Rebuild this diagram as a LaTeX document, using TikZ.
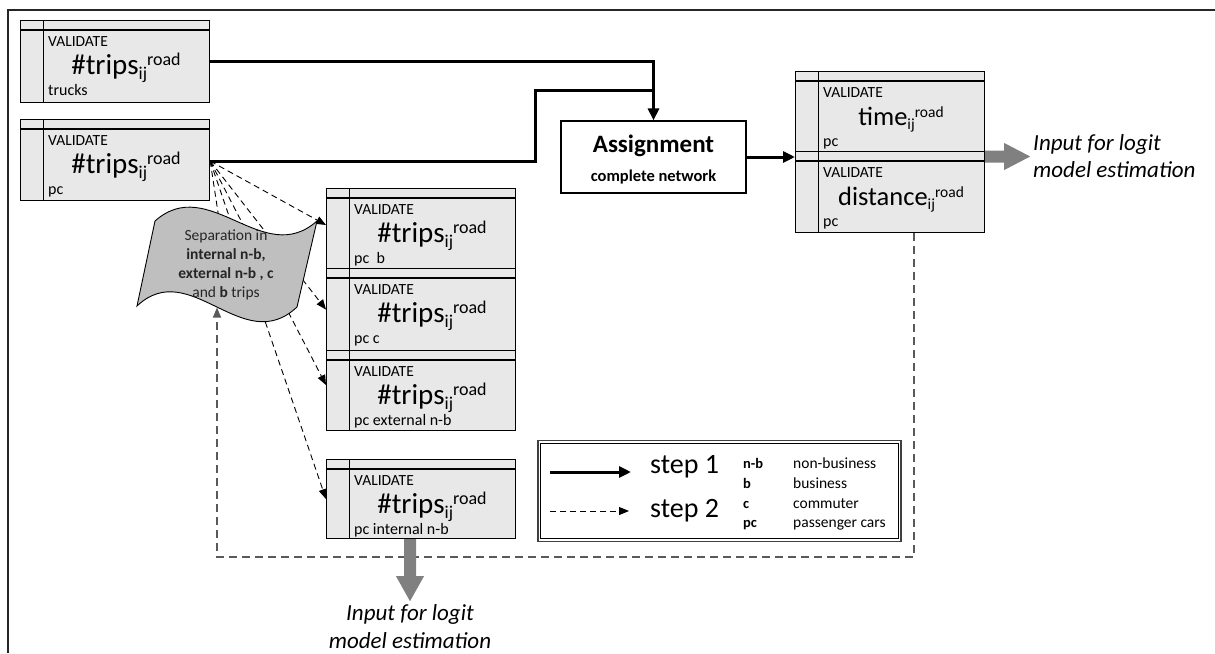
\documentclass[tikz,border=0pt]{standalone}
\usepackage{fontspec}
\setmainfont{Carlito}
\usetikzlibrary{arrows.meta,calc}
\newcommand\fsz[1]{\fontsize{#1}{#1}\selectfont}
\newcommand\tripsL[1]{#1\raisebox{-5pt}{\fsz{18}ij}\raisebox{8.5pt}{\fsz{18}road}}
\newcommand\tripsR[1]{#1\raisebox{-4.5pt}{\fsz{15.5}ij}\raisebox{8pt}{\fsz{15.5}road}}
\tikzset{
  dbox/.style={draw=black, line width=1.2pt, fill=black!9, minimum width=189pt, inner sep=0pt, anchor=north west},
  txt/.style={inner sep=0pt},
  thickline/.style={line width=3pt},
  thickarrow/.style={line width=3pt, -{Triangle[length=12pt,width=11pt]}},
  dasharrow/.style={line width=0.9pt, dash pattern=on 6pt off 4pt, -{Triangle[length=10pt,width=8pt]}},
  dashline/.style={line width=0.9pt, dash pattern=on 6pt off 4pt},
  retdash/.style={line width=1.3pt, black!65, dash pattern=on 8pt off 5pt, -{Triangle[length=10pt,width=8pt]}},
  blockarrow/.style={fill=gray},
}
% name, x0, y0, height, main text, bottom label, main font size
\newcommand\databox[7]{%
  \node[dbox, minimum height=#4] (#1) at (#2,#3) {};
  \draw[line width=1.2pt] ($(#1.north west)+(0,10)$) -- ($(#1.north east)+(0,10)$);
  \draw[line width=1pt] ($(#1.north west)+(23,0)$) -- ($(#1.south west)+(23,0)$);
  \node[txt, anchor=base west, font=\fsz{15.5}] (#1v) at ($(#1.north west)+(28,26)$) {VALIDATE};
  \node[txt, anchor=base, font=\fsz{#7}] (#1m) at ($(#1.north west)+(106,54)$) {#5};
  \node[txt, anchor=base west, font=\fsz{16}] (#1l) at ($(#1.north west)+(28,75.5)$) {#6};
}
\begin{document}
\begin{tikzpicture}[x=1pt,y=-1pt]
\useasboundingbox (0,0) rectangle (1215,653);
% outer frame (only top and left visible)
\draw[line width=1.5pt, black!85] (8,653) -- (8,10) -- (1215,10);

% data boxes
\databox{T}{20}{20}{82pt}{\tripsL{\#trips}}{trucks}{29}
\databox{P}{20}{119}{81pt}{\tripsL{\#trips}}{pc}{29}
\databox{Ma}{326}{188}{80pt}{\tripsL{\#trips}}{pc\ \ b}{29}
\databox{Mb}{326}{268}{82pt}{\tripsL{\#trips}}{pc c}{29}
\databox{Mc}{326}{350}{80pt}{\tripsL{\#trips}}{pc external n-b}{29}
\databox{Md}{326}{459}{79pt}{\tripsL{\#trips}}{pc internal n-b}{29}
\databox{Ra}{795}{71}{80pt}{\tripsR{time}}{pc}{26.5}
\databox{Rb}{795}{151}{81pt}{\tripsR{distance}}{pc}{26.5}

% assignment
\node[draw, line width=1.2pt, fill=white, minimum width=185pt, minimum height=72pt, inner sep=0pt] (assign) at (653.5,157) {};
\node[txt, anchor=base, font=\fsz{25}\bfseries] (assignt) at (653.5,152) {Assignment};
\node[txt, anchor=base, font=\fsz{16.5}\bfseries] (assigns) at (653.5,181.5) {complete network};

% coordinates
\coordinate (pe) at ($(P.east)+(0,1)$);
\coordinate (bend) at (535,90);
\coordinate (sepc) at (226,265);
\coordinate (sepbot) at (217,307.5);

% step 1 connectors
\draw[thickline] (pe) -| (bend) -- (bend -| assign.north);
\draw[thickarrow] (T.east) -| (assign.north);
\draw[thickarrow] (assign.east) -- (assign.east -| Rb.west);

% step 2 dashed connectors (behind the separation shape)
\draw[dashline] (pe) -- (sepc);
\draw[dasharrow] (pe) -- ($(Ma.north west)+(0,37)$);
\draw[dasharrow] (pe) -- (Mb.west);
\draw[dasharrow] (pe) -- ($(Mc.north west)+(0,35)$);
\draw[dasharrow] (pe) -- (Md.west);

% separation shape (punched tape)
\draw[line width=0.9pt, fill=gray!50] (155,221) .. controls (209,173) and (263,269) .. (317,221)
  -- (297,307) .. controls (243,358) and (190,256) .. (137,306) -- cycle;
\node[txt, align=center, font=\fontsize{15.5}{19}\selectfont, text=black!85] (sep) at (sepc)
  {Separation in\\\textbf{internal n-b,}\\\textbf{external n-b , c}\\and \textbf{b} trips};

% return dashed line
\draw[retdash] ($(Rb.south west)+(119,0)$) |- ($(sepbot)+(0,249.5)$) -- (sepbot);

% gray output arrows
\coordinate (ga) at ($(Rb.north east)+(0,5.5)$);
\fill[blockarrow] (ga) ++(0,-6) -- ++(19,0) -- ++(0,-7.5) -- ++(26,13.5) -- ++(-26,13.5) -- ++(0,-7.5) -- ++(-19,0) -- cycle;
\node[txt, anchor=west, align=left, font=\fontsize{23}{27}\selectfont\itshape] (outr) at (1033,156.5) {Input for logit\\model estimation};
\coordinate (gb) at ($(Md.south west)+(84,0)$);
\fill[blockarrow] (gb) ++(-6,0) -- ++(0,37) -- ++(-8,0) -- ++(14,25) -- ++(14,-25) -- ++(-8,0) -- ++(0,-37) -- cycle;
\node[txt, align=center, font=\fontsize{23}{28}\selectfont\itshape] (outb) at (410,627) {Input for logit\\model estimation};

% legend
\node[draw=black!75, line width=1.8pt, minimum width=363pt, minimum height=101pt, inner sep=0pt, anchor=north west] (leg) at (537,439.5) {};
\draw[line width=0.8pt] ($(leg.north west)+(3.5,3.5)$) rectangle ($(leg.south east)+(-3.5,-3.5)$);
\coordinate (l1a) at (550,472);
\coordinate (l1b) at (631,472);
\coordinate (l2a) at (550,511);
\coordinate (l2b) at (629,511);
\draw[thickarrow] (l1a) -- (l1b);
\draw[dasharrow] (l2a) -- (l2b);
\node[txt, anchor=base west, font=\fsz{28}] (st1) at (650,473) {step 1};
\node[txt, anchor=base west, font=\fsz{28}] (st2) at (650,517) {step 2};
\node[txt, anchor=base west, font=\fsz{14.5}\bfseries] (ab1) at (743,468) {n-b};
\node[txt, anchor=base west, font=\fsz{14.5}\bfseries] (ab2) at (743,488) {b};
\node[txt, anchor=base west, font=\fsz{14.5}\bfseries] (ab3) at (743,508) {c};
\node[txt, anchor=base west, font=\fsz{14.5}\bfseries] (ab4) at (743,527) {pc};
\node[txt, anchor=base west, font=\fsz{15.5}] (de1) at (793,468) {non-business};
\node[txt, anchor=base west, font=\fsz{15.5}] (de2) at (793,488) {business};
\node[txt, anchor=base west, font=\fsz{15.5}] (de3) at (793,508) {commuter};
\node[txt, anchor=base west, font=\fsz{15.5}] (de4) at (793,527) {passenger cars};
\end{tikzpicture}
\end{document}
